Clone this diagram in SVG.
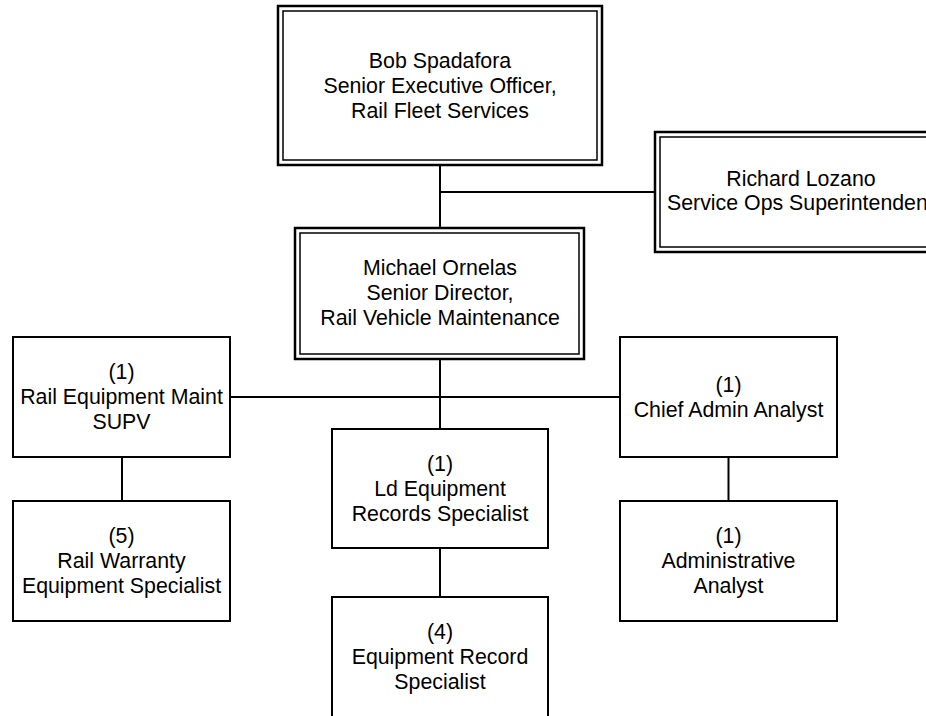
<svg xmlns="http://www.w3.org/2000/svg" width="926" height="716" viewBox="0 0 926 716">
<style>
text{font-family:"Liberation Sans",Arial,sans-serif;font-size:21.33px;fill:#000;text-anchor:middle}
.box{fill:#fff;stroke:#000;stroke-width:2}
.outer{fill:#fff;stroke:#000;stroke-width:2.5}
.inner{fill:none;stroke:#000;stroke-width:1.5}
.conn{stroke:#000;stroke-width:2;fill:none}
</style>
<rect width="926" height="716" fill="#fff"/>
<g id="connectors">
<line class="conn" x1="440" y1="165" x2="440" y2="228"/>
<line class="conn" x1="440" y1="192" x2="655" y2="192"/>
<line class="conn" x1="440" y1="359" x2="440" y2="429"/>
<line class="conn" x1="230" y1="397" x2="620" y2="397"/>
<line class="conn" x1="122" y1="457" x2="122" y2="501"/>
<line class="conn" x1="728.5" y1="457" x2="728.5" y2="501"/>
<line class="conn" x1="440" y1="548" x2="440" y2="597"/>
</g>
<g id="bob">
<rect class="outer" x="278" y="6" width="324" height="159"/>
<rect class="inner" x="283" y="11" width="314" height="149"/>
<text x="440" y="68">Bob Spadafora</text>
<text x="440" y="93">Senior Executive Officer,</text>
<text x="440" y="118">Rail Fleet Services</text>
</g>
<g id="richard">
<rect class="outer" x="655" y="132" width="292" height="120"/>
<rect class="inner" x="660" y="137" width="282" height="110"/>
<text x="801" y="185.5">Richard Lozano</text>
<text x="667" y="210" style="text-anchor:start">Service Ops Superintenden</text>
</g>
<g id="michael">
<rect class="outer" x="295" y="228" width="289" height="131"/>
<rect class="inner" x="300" y="233" width="279" height="121"/>
<text x="440" y="275">Michael Ornelas</text>
<text x="440" y="300">Senior Director,</text>
<text x="440" y="325">Rail Vehicle Maintenance</text>
</g>
<g id="rail-equip-supv">
<rect class="box" x="13" y="337" width="217" height="120"/>
<text x="121.5" y="379">(1)</text>
<text x="121.5" y="404">Rail Equipment Maint</text>
<text x="121.5" y="429">SUPV</text>
</g>
<g id="rail-warranty">
<rect class="box" x="13" y="501" width="217" height="120"/>
<text x="121.5" y="543">(5)</text>
<text x="121.5" y="568">Rail Warranty</text>
<text x="121.5" y="593">Equipment Specialist</text>
</g>
<g id="ld-equip">
<rect class="box" x="332" y="429" width="216" height="119"/>
<text x="440" y="471">(1)</text>
<text x="440" y="496">Ld Equipment</text>
<text x="440" y="521">Records Specialist</text>
</g>
<g id="equip-record">
<rect class="box" x="332" y="597" width="216" height="120"/>
<text x="440" y="639">(4)</text>
<text x="440" y="664">Equipment Record</text>
<text x="440" y="689">Specialist</text>
</g>
<g id="chief-admin">
<rect class="box" x="620" y="337" width="217" height="120"/>
<text x="728.5" y="391.5">(1)</text>
<text x="728.5" y="416.5">Chief Admin Analyst</text>
</g>
<g id="admin-analyst">
<rect class="box" x="620" y="501" width="217" height="120"/>
<text x="728.5" y="543">(1)</text>
<text x="728.5" y="568">Administrative</text>
<text x="728.5" y="593">Analyst</text>
</g>
</svg>
